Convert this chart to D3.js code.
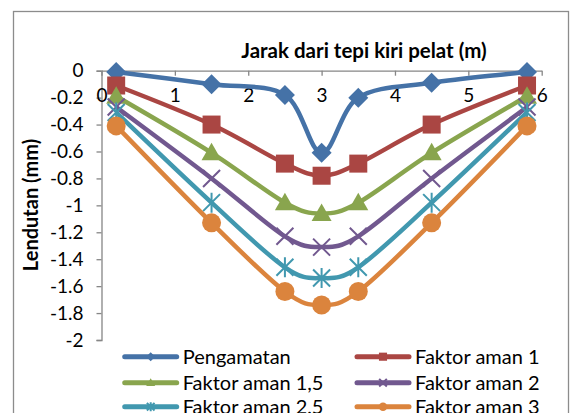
<!DOCTYPE html>
<html><head><meta charset="utf-8">
<script src="https://d3js.org/d3.v7.min.js"></script>
<style>body{margin:0;background:#fff}svg{display:block}</style>
</head><body>
<svg id="c" width="571" height="413"></svg>
<script>
const xs = [0.2, 1.5, 2.5, 3, 3.5, 4.5, 5.8];
const seriesNames = ["Pengamatan","Faktor aman 1","Faktor aman 1,5","Faktor aman 2","Faktor aman 2,5","Faktor aman 3"];
const pengamatan = [-0.01, -0.10, -0.18, -0.61, -0.20, -0.09, -0.01];
const faktor1   = [-0.11, -0.40, -0.69, -0.78, -0.69, -0.40, -0.11];
const faktor15  = [-0.19, -0.61, -0.98, -1.06, -0.98, -0.61, -0.19];
const faktor2   = [-0.27, -0.80, -1.23, -1.31, -1.23, -0.80, -0.27];
const faktor25  = [-0.31, -0.98, -1.46, -1.54, -1.46, -0.98, -0.31];
const faktor3   = [-0.41, -1.13, -1.64, -1.74, -1.64, -1.13, -0.41];
const xTicks = [0,1,2,3,4,5,6];
const yTicks = [0,-0.2,-0.4,-0.6,-0.8,-1,-1.2,-1.4,-1.6,-1.8,-2];
const colors = ["#4572A7","#AA4643","#89A54E","#71588F","#4198AF","#DB843D"];
const markers = ["diamond","square","triangle","x","star","circle"];
const allValues = [pengamatan, faktor1, faktor15, faktor2, faktor25, faktor3];

const svg = d3.select("#c");
const FONT = "Lato, 'Open Sans', sans-serif";
svg.append("rect").attr("x",13.5).attr("y",11.5).attr("width",555).attr("height",420)
  .attr("fill","#fff").attr("stroke","#8c8c8c").attr("stroke-width",1.3);

const x = d3.scaleLinear().domain([0,6]).range([101.5,541.7]);
const y = d3.scaleLinear().domain([0,-2]).range([70.7,340]);

// y axis
const yAx = svg.append("g").attr("transform","translate(101.5,0)")
  .call(d3.axisLeft(y).tickValues(yTicks).tickSize(5).tickPadding(13).tickFormat(d=>String(d)));
yAx.select(".domain").attr("stroke","#868686").attr("stroke-width",1.3);
yAx.selectAll(".tick line").attr("stroke","#868686").attr("stroke-width",1.3);
yAx.selectAll("text").attr("font-family",FONT).attr("font-size",19).attr("fill","#000");

// x axis at y=0
const xAx = svg.append("g").attr("transform",`translate(0,${y(0)})`)
  .call(d3.axisBottom(x).tickValues(xTicks).tickSize(5).tickSizeOuter(0).tickPadding(13).tickFormat(d=>String(d)));
xAx.select(".domain").attr("stroke","#868686").attr("stroke-width",1.3);
xAx.selectAll(".tick line").attr("stroke","#868686").attr("stroke-width",1.3);
xAx.selectAll("text").attr("font-family",FONT).attr("font-size",19).attr("fill","#000");

// titles
svg.append("text").attr("x",364).attr("y",58).attr("text-anchor","middle")
  .attr("font-family",FONT).attr("font-weight","bold").attr("font-size",20.5).text("Jarak dari tepi kiri pelat (m)");
svg.append("text").attr("transform","translate(38,205) rotate(-90)").attr("text-anchor","middle")
  .attr("font-family",FONT).attr("font-weight","bold").attr("font-size",20).text("Lendutan (mm)");

function drawMarker(g, type, cx, cy, s, color){
  const h = s/2;
  if(type==="diamond"){
    g.append("path").attr("d",`M${cx},${cy-h}L${cx+h},${cy}L${cx},${cy+h}L${cx-h},${cy}Z`).attr("fill",color);
  } else if(type==="square"){
    g.append("rect").attr("x",cx-h*0.9).attr("y",cy-h*0.9).attr("width",s*0.9).attr("height",s*0.9).attr("fill",color);
  } else if(type==="triangle"){
    g.append("path").attr("d",`M${cx},${cy-h}L${cx+h},${cy+h*0.75}L${cx-h},${cy+h*0.75}Z`).attr("fill",color);
  } else if(type==="circle"){
    g.append("circle").attr("cx",cx).attr("cy",cy).attr("r",h*0.95).attr("fill",color);
  } else if(type==="x"){
    const a=h*0.85;
    g.append("path").attr("d",`M${cx-a},${cy-a}L${cx+a},${cy+a}M${cx-a},${cy+a}L${cx+a},${cy-a}`)
      .attr("stroke",color).attr("stroke-width",2);
  } else if(type==="star"){
    const a=h*0.85;
    g.append("path").attr("d",`M${cx-a},${cy-a}L${cx+a},${cy+a}M${cx-a},${cy+a}L${cx+a},${cy-a}M${cx},${cy-h}L${cx},${cy+h}`)
      .attr("stroke",color).attr("stroke-width",2);
  }
}

const line = d3.line().x(d=>x(d[0])).y(d=>y(d[1])).curve(d3.curveCatmullRom.alpha(0));
allValues.forEach((vals,i)=>{
  const g = svg.append("g");
  const pts = xs.map((xv,j)=>[xv, vals[j]]);
  g.append("path").datum(pts).attr("d",line).attr("fill","none")
    .attr("stroke",colors[i]).attr("stroke-width",4.5).attr("stroke-linejoin","round");
  pts.forEach(p=>drawMarker(g, markers[i], x(p[0]), y(p[1]), 20, colors[i]));
});

// legend
const legPos = [[122.7,356.7],[355,356.7],[122.7,382.7],[355,382.7],[122.7,406.7],[355,406.7]];
seriesNames.forEach((name,i)=>{
  const [lx,ly] = legPos[i];
  const g = svg.append("g");
  g.append("line").attr("x1",lx+2).attr("x2",lx+54).attr("y1",ly).attr("y2",ly)
    .attr("stroke",colors[i]).attr("stroke-width",5).attr("stroke-linecap","round");
  drawMarker(g, markers[i], lx+28, ly, 9, colors[i]);
  g.append("text").attr("x",lx+60).attr("y",ly+7).attr("font-family",FONT).attr("font-size",20)
    .attr("fill","#000").text(name);
});
</script>
</body></html>
